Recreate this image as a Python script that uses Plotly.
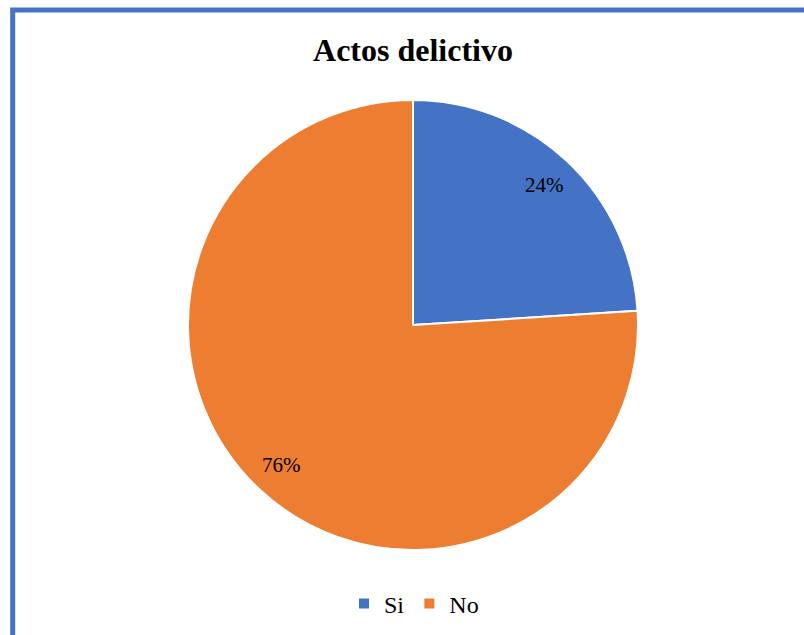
import math
import plotly.graph_objects as go

labels = ["Si", "No"]
values = [24, 76]
colors = ["#4472C4", "#ED7D31"]
title_text = "Actos delictivo"

W, H = 804, 635
cx_px, cy_px, r_px = 413, 325, 225
FONT = "'Times New Roman', 'Liberation Serif', serif"

dom_x = [(cx_px - r_px) / W, (cx_px + r_px) / W]
dom_y = [1 - (cy_px + r_px) / H, 1 - (cy_px - r_px) / H]

fig = go.Figure(go.Pie(
    labels=labels,
    values=values,
    sort=False,
    direction="clockwise",
    rotation=0,
    marker=dict(colors=colors, line=dict(color="white", width=2)),
    textinfo="none",
    hoverinfo="label+percent",
    domain=dict(x=dom_x, y=dom_y),
))

# percentage labels placed along each slice's mid-angle
total = sum(values)
cum = 0
annotations = []
for v in values:
    mid = (cum + v / 2) / total * 2 * math.pi
    cum += v
    rr = 0.855 * r_px
    x_px = cx_px + rr * math.sin(mid)
    y_px = cy_px - rr * math.cos(mid)
    annotations.append(dict(
        x=x_px / W, y=1 - y_px / H, xref="paper", yref="paper",
        text=f"{round(v / total * 100)}%", showarrow=False,
        font=dict(family=FONT, size=21, color="#000000"),
        xanchor="center", yanchor="middle",
    ))

fig.update_layout(
    width=W, height=H,
    margin=dict(l=0, r=0, t=0, b=0),
    paper_bgcolor="white",
    plot_bgcolor="white",
    font=dict(family=FONT),
    title=dict(text=f"<b>{title_text}</b>", x=cx_px / W, xanchor="center",
               y=1 - 50 / H, yanchor="middle", yref="paper",
               font=dict(family=FONT, size=32, color="#000000")),
    legend=dict(orientation="h", x=(cx_px + 1) / W, xanchor="center",
                y=1 - 604 / H, yanchor="middle",
                font=dict(family=FONT, size=24, color="#000000"),
                itemwidth=30, tracegroupgap=0),
    annotations=annotations,
    shapes=[dict(type="rect", xref="paper", yref="paper",
                 x0=12.7 / W, x1=1.05, y0=-0.05, y1=1 - 10 / H,
                 line=dict(color="#4472C4", width=5))],
)

fig.write_html("out.html",
               config={"displayModeBar": False},
               post_script="document.body.style.margin='0';document.body.style.overflow='hidden';")
